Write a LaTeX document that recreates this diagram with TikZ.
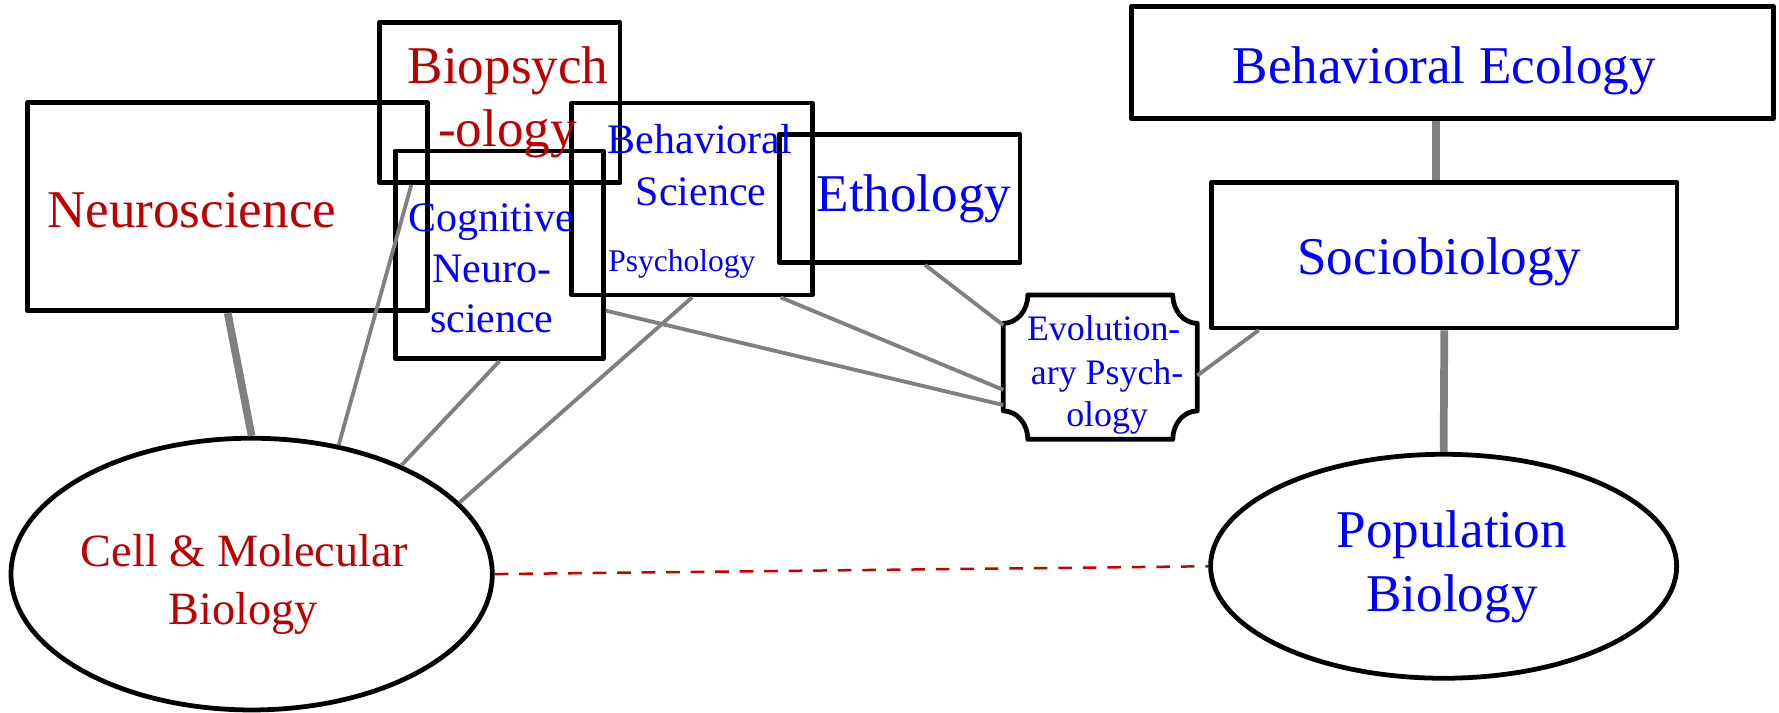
\documentclass[tikz,border=0pt]{standalone}
\usepackage{fontspec}
\setmainfont{Liberation Serif}
\usetikzlibrary{shapes.geometric}
\definecolor{txtred}{RGB}{192,0,0}
\definecolor{txtblue}{RGB}{0,0,255}
\definecolor{linkgray}{RGB}{128,128,128}
\definecolor{dashred}{RGB}{200,0,0}
\begin{document}
\begin{tikzpicture}[x=0.5pt,y=0.5pt,
  box/.style={draw=black, line width=2.1pt, line join=round, rectangle, inner sep=0pt},
  oval/.style={draw=black, line width=2.1pt, ellipse, inner sep=0pt},
  evoline/.style={draw=black, line width=2.1pt, line join=round},
  link/.style={draw=linkgray, line width=1.7pt},
  thicklink/.style={draw=linkgray, line width=3.4pt},
  reddash/.style={draw=dashred, line width=1.1pt, dash pattern=on 6pt off 4.8pt},
  redtxt/.style={text=txtred, inner sep=0pt, anchor=base},
  bluetxt/.style={text=txtblue, inner sep=0pt, anchor=base},
  bigfont/.style={font=\fontsize{23.4pt}{28pt}\selectfont},
  cellfont/.style={font=\fontsize{20.4pt}{24pt}\selectfont},
  midfont/.style={font=\fontsize{18.5pt}{22pt}\selectfont},
  evofont/.style={font=\fontsize{15.8pt}{19pt}\selectfont},
  smallfont/.style={font=\fontsize{13.9pt}{17pt}\selectfont}
]
\useasboundingbox (0,0) rectangle (1568,628);

% shapes
\node[box, minimum width=106pt, minimum height=70.5pt] (bio) at (440.5,537.5) {};
\node[box, minimum width=176.3pt, minimum height=91.6pt] (neuro) at (200.7,445.8) {};
\node[box, minimum width=91.6pt, minimum height=91.6pt] (cog) at (440.2,403.4) {};
\node[box, minimum width=106pt, minimum height=84.6pt] (bsci) at (610,452.6) {};
\node[box, minimum width=106pt, minimum height=56.5pt] (etho) at (793,453) {};
\node[box, minimum width=282.8pt, minimum height=49.2pt] (beco) at (1280.2,572.9) {};
\node[box, minimum width=205pt, minimum height=64pt] (socio) at (1273,403) {};
\node[rectangle, inner sep=0pt, outer sep=0pt, minimum width=85.5pt, minimum height=63.6pt] (evo) at (969.8,304.4) {};
\draw[evoline] ([xshift=10.8pt]evo.north west) -- ([xshift=-10.8pt]evo.north east)
  arc[start angle=180, end angle=270, x radius=10.8pt, y radius=12.5pt]
  -- ([yshift=12.5pt]evo.south east)
  arc[start angle=90, end angle=180, x radius=10.8pt, y radius=12.5pt]
  -- ([xshift=10.8pt]evo.south west)
  arc[start angle=0, end angle=90, x radius=10.8pt, y radius=12.5pt]
  -- ([yshift=-12.5pt]evo.north west)
  arc[start angle=270, end angle=360, x radius=10.8pt, y radius=12.5pt]
  -- cycle;
\node[oval, minimum width=212.1pt, minimum height=119.75pt] (cell) at (221.8,122) {};
\node[oval, minimum width=205.4pt, minimum height=98.7pt] (pop) at (1272.4,128.9) {};

% connectors
\draw[thicklink] (neuro.south) -- (cell.north);
\draw[link] ([xshift=-39pt]bio.south) -- (cell.56);
\draw[link] (cog.south) -- (cell.36);
\draw[link] (bsci.south) -- (cell.19);
\draw[link] ([yshift=-24.6pt]cog.east) -- ([yshift=-16.7pt]evo.west);
\draw[link] ([xshift=39pt]bsci.south) -- ([yshift=-10pt]evo.west);
\draw[link] ([xshift=11.2pt]etho.south) -- ([yshift=18.5pt]evo.west);
\draw[link] ([yshift=-3.7pt]evo.east) -- ([xshift=-81.8pt]socio.south);
\coordinate (becolink) at ([xshift=-7.2pt]beco.south);
\draw[thicklink] (becolink) -- (becolink |- socio.north);
\draw[thicklink] (socio.south) -- (pop.north);
\draw[reddash] (cell.east) -- (pop.west);

% texts
\node[redtxt, bigfont] (biot1) at (447.8,554.6) {Biopsych};
\node[redtxt, bigfont] (biot2) at (447.3,498.7) {-ology};
\node[redtxt, bigfont] (neurot) at (169,427.3) {Neuroscience};
\node[bluetxt, midfont] (cogt1) at (432.8,423.8) {Cognitive};
\node[bluetxt, midfont] (cogt2) at (433.5,378.9) {Neuro-};
\node[bluetxt, midfont] (cogt3) at (433.5,334.8) {science};
\node[bluetxt, midfont] (bscit1) at (617,493) {Behavioral};
\node[bluetxt, midfont] (bscit2) at (618,447.3) {Science};
\node[bluetxt, smallfont] (bscit3) at (601,388.5) {Psychology};
\node[bluetxt, bigfont] (ethot) at (805.5,441.4) {Ethology};
\node[bluetxt, bigfont] (becot) at (1273,554) {Behavioral Ecology};
\node[bluetxt, bigfont] (sociot) at (1268.3,386.5) {Sociobiology};
\node[bluetxt, evofont] (evot1) at (972.8,327.7) {Evolution-};
\node[bluetxt, evofont] (evot2) at (975.8,288.7) {ary Psych-};
\node[bluetxt, evofont] (evot3) at (975.8,252) {ology};
\node[bluetxt, bigfont] (popt1) at (1279.4,145.3) {Population};
\node[bluetxt, bigfont] (popt2) at (1279.8,88.9) {Biology};
\node[redtxt, cellfont] (cellt1) at (215.2,128.6) {Cell \& Molecular};
\node[redtxt, cellfont] (cellt2) at (214.5,78) {Biology};
\end{tikzpicture}
\end{document}
